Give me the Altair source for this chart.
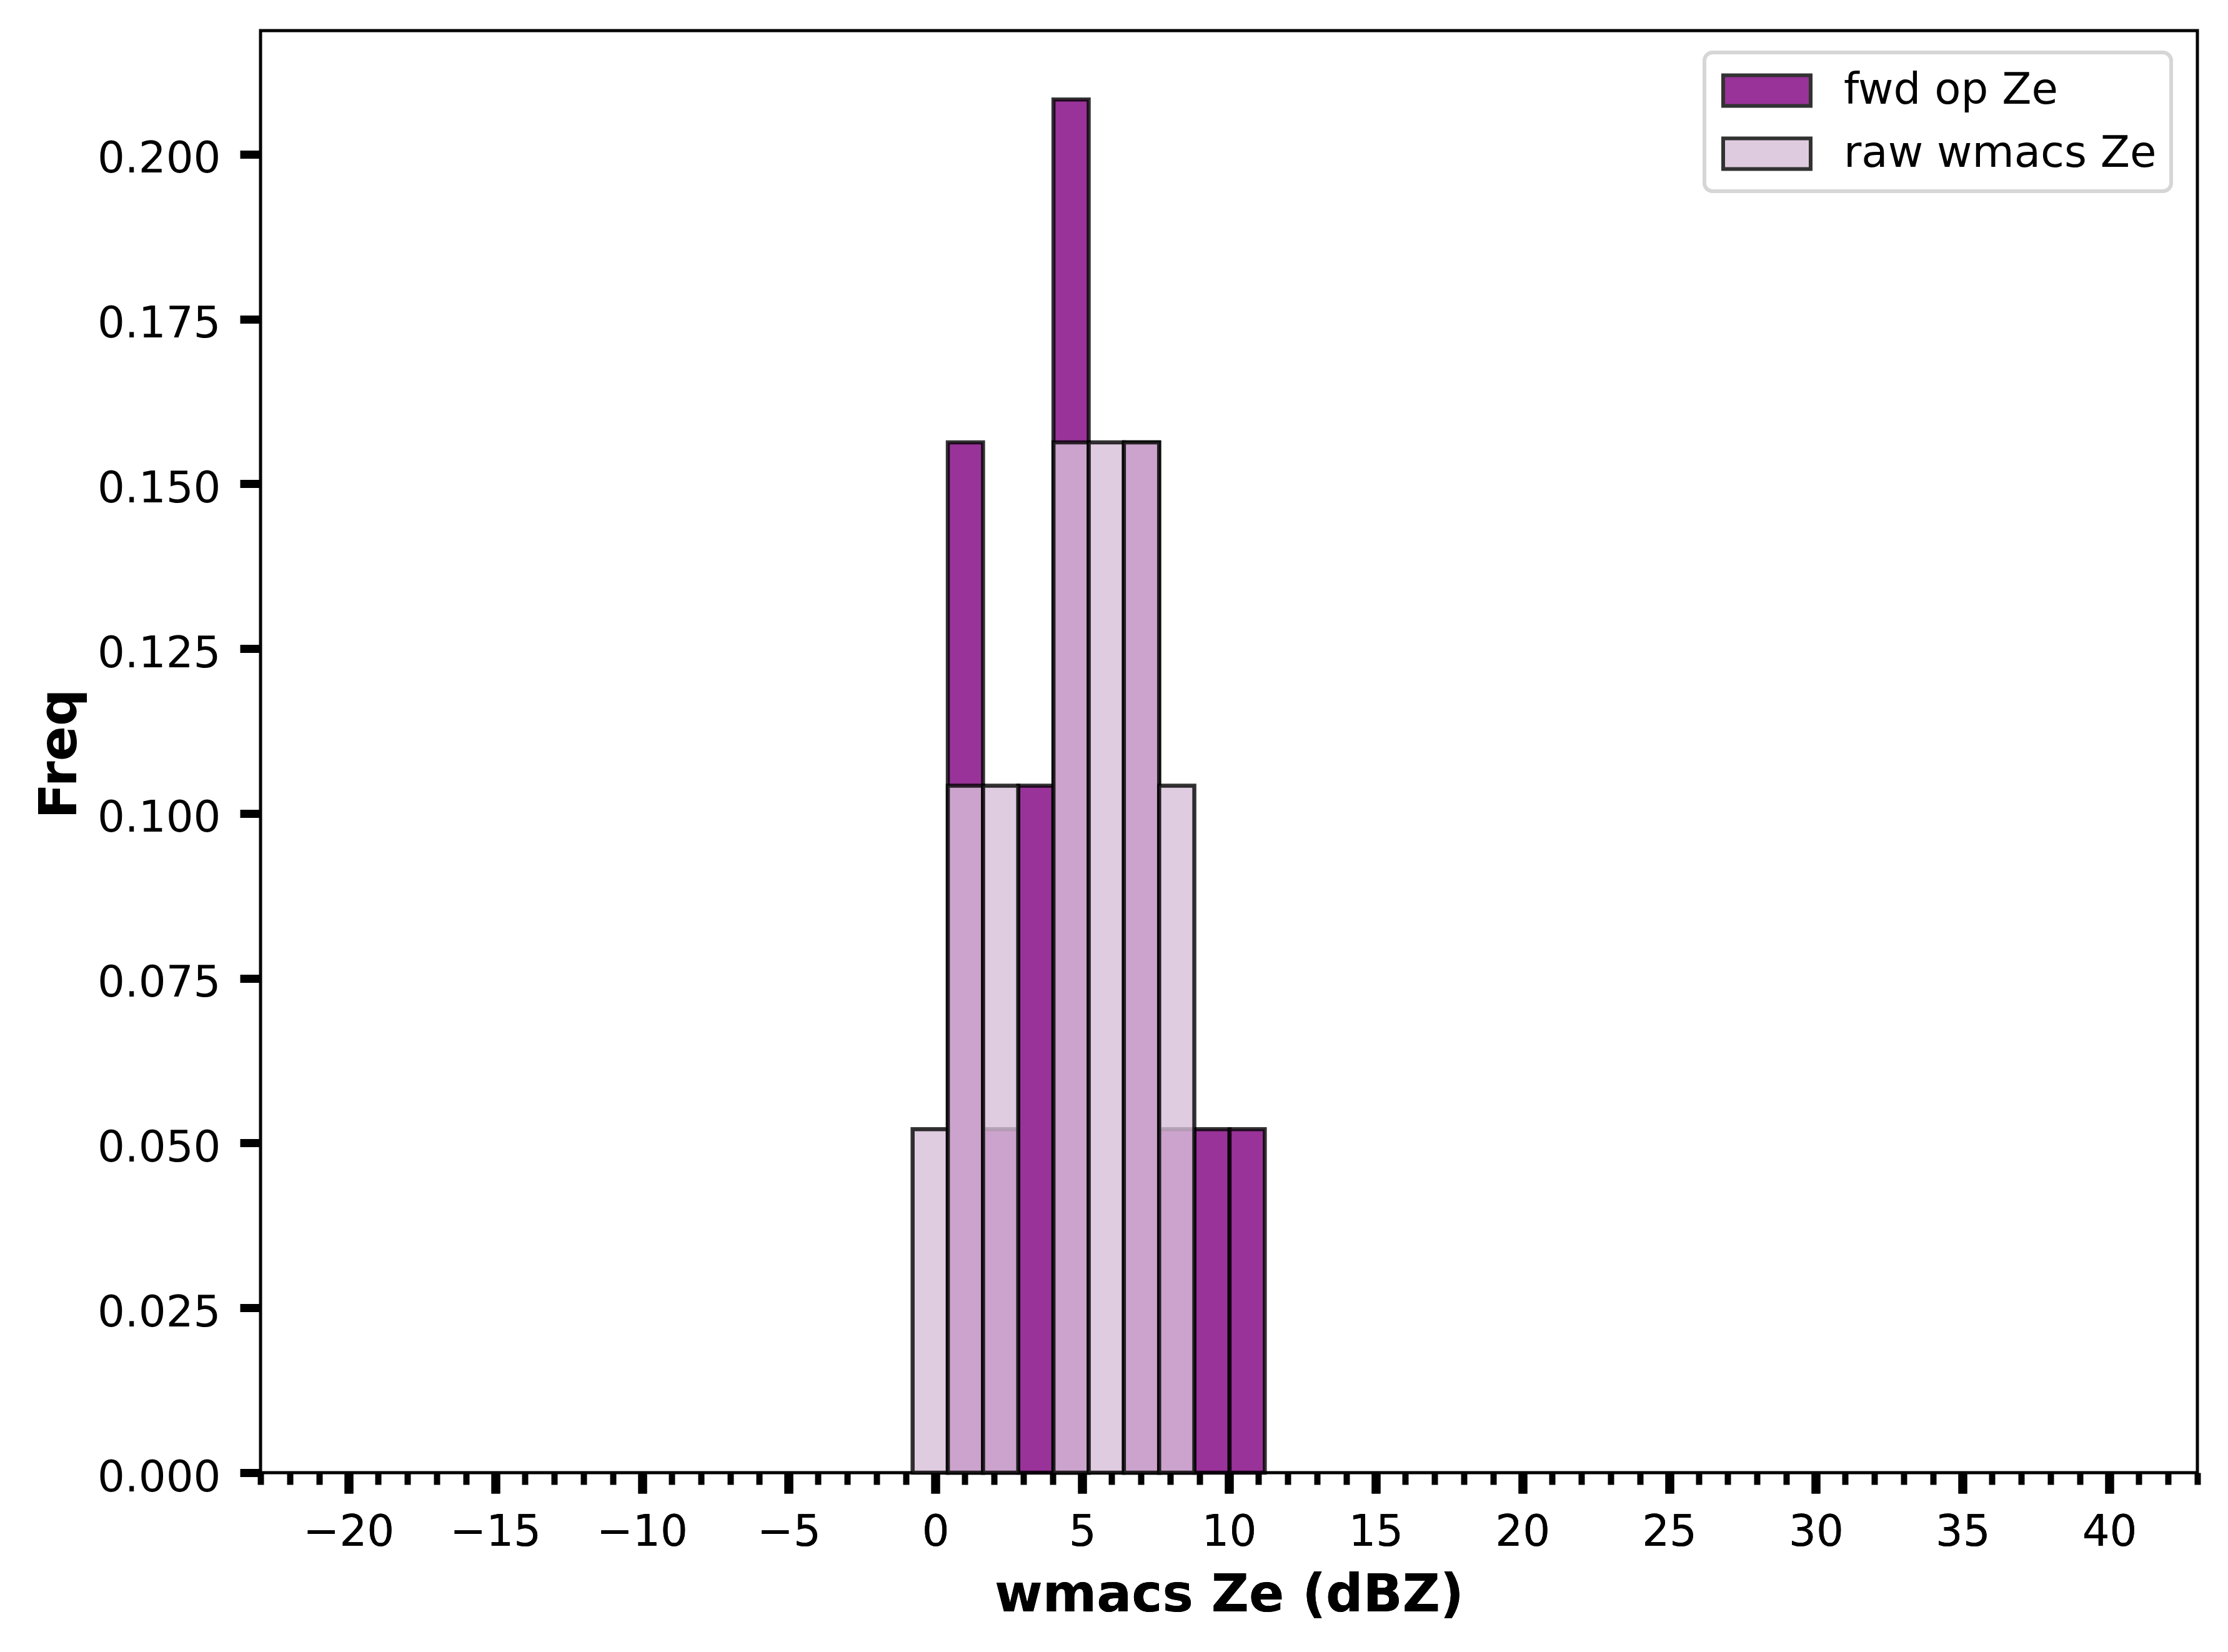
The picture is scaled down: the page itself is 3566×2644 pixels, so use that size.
import altair as alt
import pandas as pd

# ---- data ----
bin_left = [-0.78, 0.42, 1.62, 2.82, 4.02, 5.22, 6.42, 7.62, 8.82, 10.02]
bin_right = [0.42, 1.62, 2.82, 4.02, 5.22, 6.42, 7.62, 8.82, 10.02, 11.22]
fwd_freq = [0.0, 0.1563, 0.0521, 0.1042, 0.2083, 0.0, 0.1563, 0.0521, 0.0521, 0.0521]
raw_freq = [0.0521, 0.1042, 0.1042, 0.0, 0.1563, 0.1563, 0.1563, 0.1042, 0.0, 0.0]
series_names = ["fwd op Ze", "raw wmacs Ze"]
series_colors = ["purple", "thistle"]

x_major_ticks = [-20, -15, -10, -5, 0, 5, 10, 15, 20, 25, 30, 35, 40]
x_minor_ticks = [v for v in range(-23, 44) if v % 5 != 0]
y_ticks = [0.0, 0.025, 0.05, 0.075, 0.1, 0.125, 0.15, 0.175, 0.2]
x_domain = [-23, 43]
y_domain = [0, 0.21875]

rows = []
for name, freqs in zip(series_names, [fwd_freq, raw_freq]):
    for a, b, f in zip(bin_left, bin_right, freqs):
        rows.append({"series": name, "x0": a, "x1": b, "freq": f})
df = pd.DataFrame(rows)
minor_df = pd.DataFrame({"tick": x_minor_ticks})

FONT = "DejaVu Sans"
W, H = 3100, 2308

xscale = alt.Scale(domain=x_domain, nice=False, zero=False)
yscale = alt.Scale(domain=y_domain, nice=False)

fill_enc = alt.Fill(
    "series:N",
    scale=alt.Scale(domain=series_names, range=series_colors),
    legend=alt.Legend(
        title=None,
        orient="none",
        legendX=2311,
        legendY=35,
        padding=23,
        fillColor="white",
        strokeColor="#d6d6d6",
        cornerRadius=13,
        symbolType="M-2,-0.7H2V0.7H-2Z",
        symbolSize=4900,
        symbolOpacity=0.8,
        symbolStrokeColor="black",
        symbolStrokeWidth=6,
        symbolOffset=39,
        labelFont=FONT,
        labelFontSize=69,
        labelColor="black",
        labelOffset=85,
        rowPadding=26,
        labelLimit=1000,
    ),
)

x_enc = alt.X(
    "x0:Q",
    scale=xscale,
    axis=alt.Axis(
        values=x_major_ticks,
        format="d",
        orient="bottom",
        title="wmacs Ze (dBZ)",
        titleFont=FONT,
        titleFontSize=83,
        titleFontWeight="bold",
        titleColor="black",
        titleBaseline="alphabetic",
        titleY=221,
        labelFont=FONT,
        labelFontSize=69,
        labelColor="black",
        labelPadding=28,
        labelLimit=1000,
        tickSize=33,
        tickWidth=14,
        tickColor="black",
        domain=False,
        grid=False,
        labelFlush=False,
        labelOverlap=False,
    ),
)
y_enc = alt.Y(
    "freq:Q",
    scale=yscale,
    axis=alt.Axis(
        values=y_ticks,
        format=".3f",
        title="Freq",
        titleFont=FONT,
        titleFontSize=83,
        titleFontWeight="bold",
        titleColor="black",
        titleAngle=270,
        titleBaseline="alphabetic",
        titleX=-296,
        titleY=1157,
        labelFont=FONT,
        labelFontSize=69,
        labelColor="black",
        labelPadding=31,
        labelOffset=8,
        labelLimit=1000,
        tickSize=33,
        tickWidth=13,
        tickColor="black",
        domain=False,
        grid=False,
        labelFlush=False,
        labelOverlap=False,
    ),
)

bar_kw = dict(fillOpacity=0.8, stroke="black", strokeOpacity=0.8, strokeWidth=6.5)

base = alt.Chart(df).transform_filter("datum.freq > 0")

fwd_layer = base.transform_filter(alt.datum.series == series_names[0]).mark_bar(**bar_kw).encode(
    x=x_enc, x2="x1:Q", y=y_enc, y2=alt.datum(0), fill=fill_enc
)
raw_layer = base.transform_filter(alt.datum.series == series_names[1]).mark_bar(**bar_kw).encode(
    x=x_enc, x2="x1:Q", y=y_enc, y2=alt.datum(0), fill=fill_enc
)

minor_layer = alt.Chart(minor_df).mark_point(opacity=0).encode(
    x=alt.X(
        "tick:Q",
        scale=xscale,
        axis=alt.Axis(
            values=x_minor_ticks,
            orient="bottom",
            labels=False,
            title=None,
            tickSize=19,
            tickWidth=10,
            tickColor="black",
            domain=False,
            grid=False,
        ),
    )
)

chart = (
    alt.layer(fwd_layer, raw_layer, minor_layer)
    .resolve_scale(x="shared")
    .resolve_axis(x="independent")
    .properties(
        width=W,
        height=H,
        autosize=alt.AutoSizeParams(type="none"),
        padding={"left": 409, "top": 41, "right": 20, "bottom": 260},
        background="white",
    )
    .configure_view(stroke="black", strokeWidth=5)
)

try:
    c2 = chart.configure_legend(strokeWidth=6)
    c2.to_dict()
    chart = c2
except Exception:
    pass

chart.save("out.html", embed_options={"renderer": "svg", "actions": False})
